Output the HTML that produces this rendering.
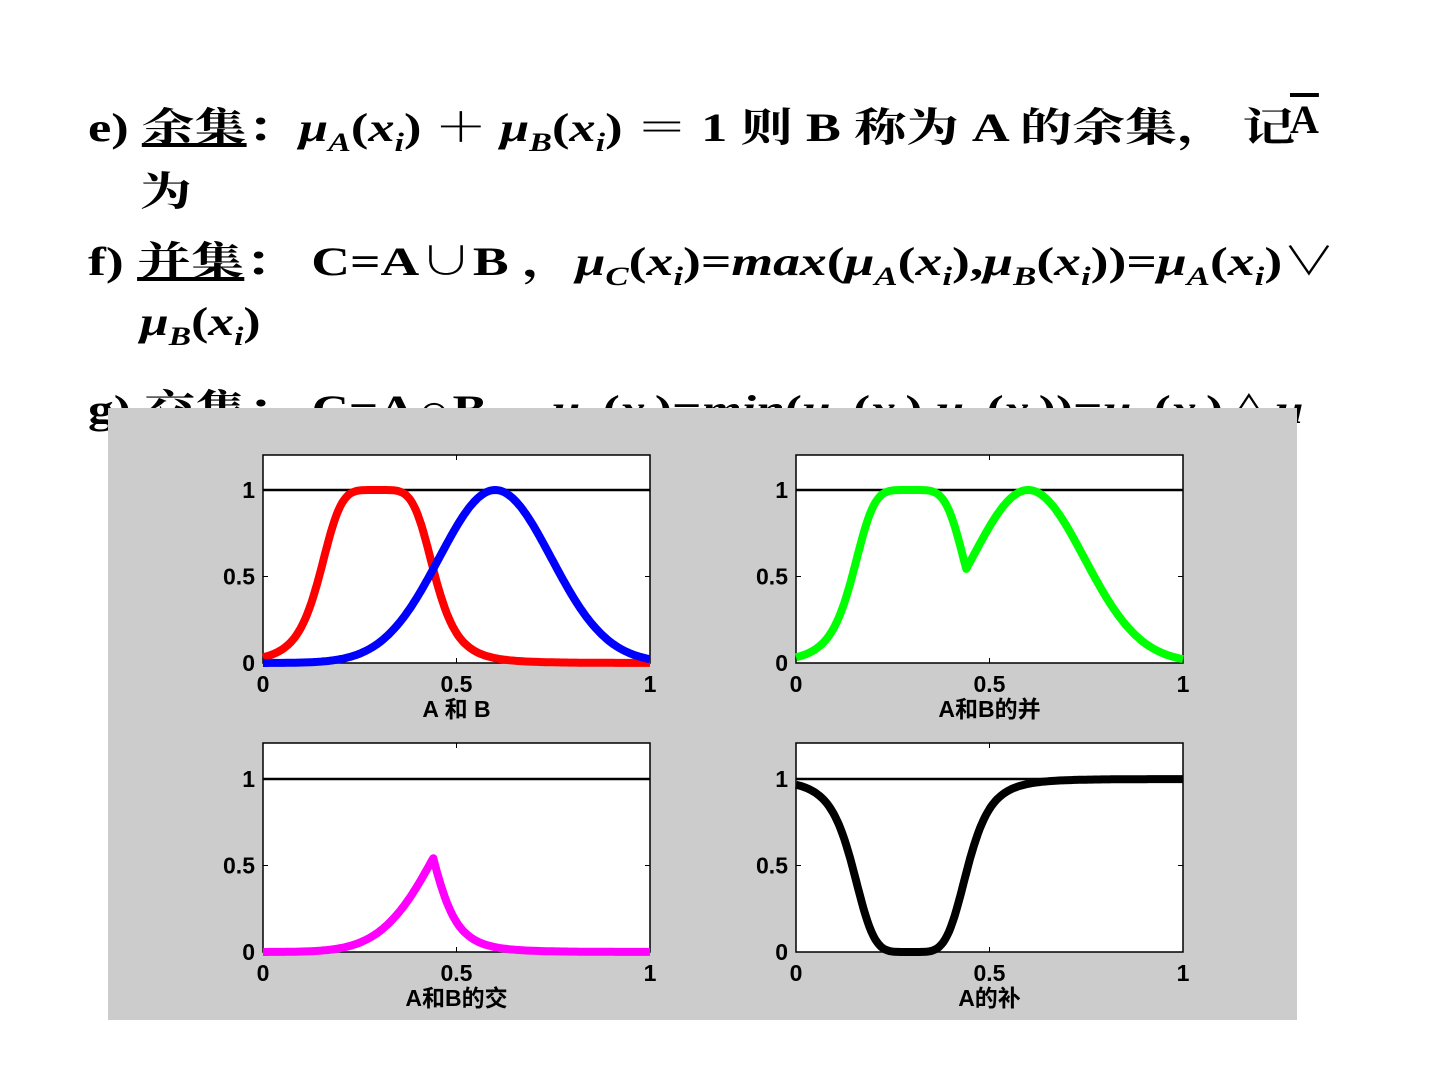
<!DOCTYPE html>
<html><head><meta charset="utf-8"><style>
html,body{margin:0;padding:0;background:#fff;width:1440px;height:1080px;overflow:hidden}
.t{position:absolute;font-family:"Liberation Serif","Noto Serif CJK SC",serif;font-weight:bold;font-size:40px;color:#000;white-space:nowrap;transform:scaleX(1.29);transform-origin:left}
.t i{font-style:italic}
sub{font-size:26px;vertical-align:-10px;font-style:italic}
u{text-decoration:underline}
#g{position:absolute;left:108px;top:408px;width:1189px;height:612px;background:#cccccc}
</style></head><body>
<div class="t" style="left:88px;top:96px;transform:scaleX(1.31)">e) <u>余集</u>：<i>μ<sub>A</sub></i>(<i>x<sub>i</sub></i>) ＋ <i>μ<sub>B</sub></i>(<i>x<sub>i</sub></i>) ＝ 1 则 B 称为 A 的余集， 记</div>
<div class="t" style="left:1290px;top:96px;text-decoration:overline;transform:none">A</div>
<div class="t" style="left:140px;top:160px">为</div>
<div class="t" style="left:88px;top:230px;transform:scaleX(1.34)">f) <u>并集</u>： C=A∪B ，<i>μ<sub>C</sub></i>(<i>x<sub>i</sub></i>)=<i>max</i>(<i>μ<sub>A</sub></i>(<i>x<sub>i</sub></i>),<i>μ<sub>B</sub></i>(<i>x<sub>i</sub></i>))=<i>μ<sub>A</sub></i>(<i>x<sub>i</sub></i>)∨</div>
<div class="t" style="left:140px;top:298px"><i>μ<sub>B</sub></i>(<i>x<sub>i</sub></i>)</div>
<div class="t" style="left:88px;top:378px">g) 交集： C=A∩B ，<i>μ<sub>C</sub></i>(<i>x<sub>i</sub></i>)=<i>min</i>(<i>μ<sub>A</sub></i>(<i>x<sub>i</sub></i>),<i>μ<sub>B</sub></i>(<i>x<sub>i</sub></i>))=<i>μ<sub>A</sub></i>(<i>x<sub>i</sub></i>)∧<i>μ</i></div>
<div id="g"></div>
<svg id="s" width="1440" height="1080" style="position:absolute;left:0;top:0" font-family="Liberation Sans,Noto Sans CJK SC,sans-serif" font-weight="bold"></svg>
<script>
var s=document.getElementById('s'),h='';
function A(x){return 1/(1+Math.pow(Math.abs((x-0.295)/0.15),5));}
function B(x){return Math.exp(-Math.pow(x-0.6,2)/(2*0.145*0.145));}
function plot(L,T,R,Bt,fs,cols,lab){
 var y1=Bt-173;
 h+='<rect x="'+L+'" y="'+T+'" width="'+(R-L)+'" height="'+(Bt-T)+'" fill="#fff" stroke="#000" stroke-width="1.5"/>';
 h+='<line x1="'+L+'" x2="'+R+'" y1="'+y1+'" y2="'+y1+'" stroke="#000" stroke-width="2.5"/>';
 [0,0.5,1].forEach(function(v){var x=L+v*(R-L),y=Bt-v*173;
  h+='<line x1="'+x+'" x2="'+x+'" y1="'+Bt+'" y2="'+(Bt-5)+'" stroke="#000"/><line x1="'+x+'" x2="'+x+'" y1="'+T+'" y2="'+(T+5)+'" stroke="#000"/>';
  h+='<line x1="'+L+'" x2="'+(L+5)+'" y1="'+y+'" y2="'+y+'" stroke="#000"/><line x1="'+R+'" x2="'+(R-5)+'" y1="'+y+'" y2="'+y+'" stroke="#000"/>';
  h+='<text x="'+x+'" y="'+(Bt+29)+'" font-size="23" text-anchor="middle">'+v+'</text>';
  h+='<text x="'+(L-8)+'" y="'+(y+8)+'" font-size="23" text-anchor="end">'+v+'</text>';});
 h+='<text x="'+((L+R)/2)+'" y="'+(Bt+54)+'" font-size="23" text-anchor="middle">'+lab+'</text>';
 fs.forEach(function(f,i){var d='';for(var k=0;k<=200;k++){var x=k/200;d+=(k?'L':'M')+(L+x*(R-L)).toFixed(1)+','+(Bt-f(x)*173).toFixed(1);}
  h+='<path d="'+d+'" fill="none" stroke="'+cols[i]+'" stroke-width="8" stroke-linejoin="round"/>';});
}
plot(263,455,650,663,[A,B],['#ff0000','#0000ff'],'A 和 B');
plot(796,455,1183,663,[function(x){return Math.max(A(x),B(x));}],['#00ff00'],'A和B的并');
plot(263,743,650,952,[function(x){return Math.min(A(x),B(x));}],['#ff00ff'],'A和B的交');
plot(796,743,1183,952,[function(x){return 1-A(x);}],['#000'],'A的补');
s.innerHTML=h;
</script>
</body></html>
